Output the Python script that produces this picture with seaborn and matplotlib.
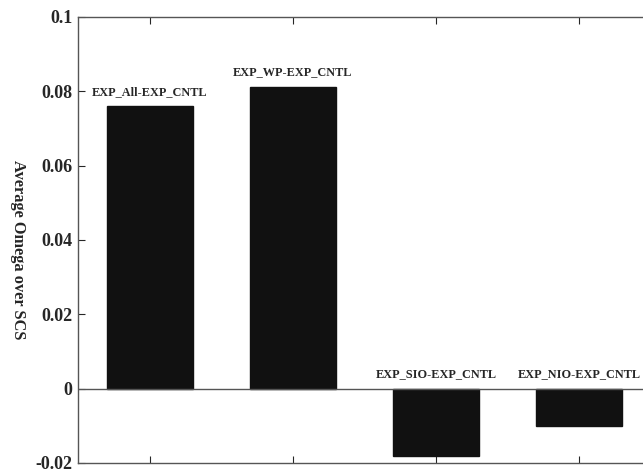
import pandas as pd
import matplotlib.pyplot as plt
import seaborn as sns

# data
experiments = ["EXP_All-EXP_CNTL", "EXP_WP-EXP_CNTL", "EXP_SIO-EXP_CNTL", "EXP_NIO-EXP_CNTL"]
omega_diff = [0.0760, 0.0813, -0.0181, -0.0101]

df = pd.DataFrame({"exp": experiments, "omega": omega_diff})

sns.set_style("ticks")
plt.rcParams["font.family"] = ["Liberation Serif", "DejaVu Serif"]
plt.rcParams["font.weight"] = "bold"

fig = plt.figure(figsize=(6.43, 4.74), dpi=100)
ax = fig.add_axes([78 / 643, 1 - 463 / 474, (651 - 78) / 643, (463 - 17) / 474])

sns.barplot(data=df, x="exp", y="omega", color="#111111", width=0.6,
            saturation=1, edgecolor="#111111", ax=ax)

ax.set_xlim(-0.5, 3.5)
ax.set_ylim(-0.02, 0.1)
ax.set_yticks([-0.02, 0, 0.02, 0.04, 0.06, 0.08, 0.1])
ax.set_yticklabels(["-0.02", "0", "0.02", "0.04", "0.06", "0.08", "0.1"],
                   fontsize=13, fontweight="bold")
ax.set_xticklabels([])
ax.set_xlabel("")
ax.tick_params(axis="x", direction="in", top=True, bottom=True, length=5, width=0.8)
ax.tick_params(axis="y", direction="in", left=True, right=False, length=5, width=0.8, pad=4)
ax.axhline(0, color="#555555", lw=1)

for s in ax.spines.values():
    s.set_color("#555555")
    s.set_linewidth(1)

ax.set_ylabel("Average Omega over SCS", rotation=-90, fontsize=11.8,
              fontweight="bold", va="center", ha="center")
ax.yaxis.set_label_coords(-0.105, 0.478)

# labels above each bar (or above zero for negative bars)
for i, v in enumerate(omega_diff):
    top = max(v, 0)
    ax.annotate(experiments[i], (i, top), xytext=(0, 6), textcoords="offset points",
                ha="center", va="bottom", fontsize=8.8, fontweight="bold")

fig.savefig("out.png", dpi=100)
